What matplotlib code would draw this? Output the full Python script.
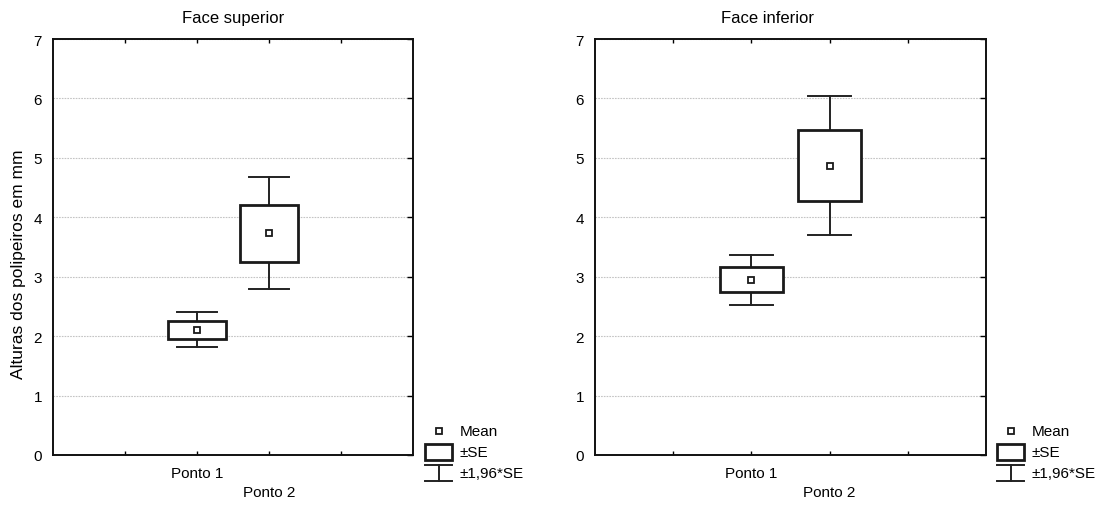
import matplotlib
matplotlib.use("Agg")
import matplotlib.pyplot as plt
from matplotlib.patches import Rectangle
from matplotlib.lines import Line2D

plt.rcParams["font.family"] = ["Liberation Sans", "DejaVu Sans"]

W, H = 1104, 506

categories = ["Ponto 1", "Ponto 2"]
panel_titles = ["Face superior", "Face inferior"]

# mean and standard error
mean_superior = [2.11, 3.73]
se_superior = [0.15, 0.48]
mean_inferior = [2.95, 4.87]
se_inferior = [0.215, 0.60]

y_ticks = [0, 1, 2, 3, 4, 5, 6, 7]
legend_labels = ["Mean", "\u00b1SE", "\u00b11,96*SE"]


def px(x, y):
    return x / W, 1 - y / H


def draw_panel(ax, means, ses, title, title_x):
    positions = [0, 1]
    box_w = 0.8
    cap_w = 0.55

    for pos, m, se in zip(positions, means, ses):
        lo, hi = m - 1.96 * se, m + 1.96 * se
        ax.plot([pos, pos], [lo, hi], color="#222222", lw=1.4, zorder=2)
        ax.plot([pos - cap_w / 2, pos + cap_w / 2], [hi, hi],
                color="#222222", lw=1.4, zorder=2)
        ax.plot([pos - cap_w / 2, pos + cap_w / 2], [lo, lo],
                color="#222222", lw=1.4, zorder=2)
        ax.add_patch(Rectangle((pos - box_w / 2, m - se), box_w, 2 * se,
                               facecolor="white", edgecolor="#1a1a1a",
                               lw=2.0, zorder=3))
        ax.plot(pos, m, marker="s", ms=5, mfc="white", mec="#1a1a1a",
                mew=1.3, ls="none", zorder=4)

    ax.set_xlim(-2, 3)
    ax.set_ylim(0, 7)
    ax.set_yticks(y_ticks)
    ax.set_xticks([-1, 0, 1, 2])
    ax.set_xticklabels(["", categories[0], "\n" + categories[1], ""],
                       fontsize=11)
    for lab in ax.get_xticklabels():
        lab.set_linespacing(1.45)
    ax.tick_params(axis="x", direction="in", length=3, top=True,
                   bottom=True, pad=8, width=1)
    ax.tick_params(axis="y", direction="in", length=4, left=False,
                   right=True, labelsize=11, pad=8, width=1)
    ax.grid(axis="y", color="#c4c4c4", ls=(0, (1.5, 1)), lw=0.8, zorder=0)
    for s in ax.spines.values():
        s.set_linewidth(1.4)
        s.set_color("#111111")
    ax.text(title_x, 1.033, title, transform=ax.transAxes, ha="center",
            va="bottom", fontsize=12)


def draw_legend(fig, x0):
    # x0 is the left edge of the legend symbols, in pixels
    tf = fig.transFigure
    sym_w = 27
    cx = x0 + sym_w / 2
    fig.add_artist(Line2D(*zip(px(cx, 432)), marker="s", ms=5, mfc="white",
                          mec="#1a1a1a", mew=1.3, ls="none", transform=tf))
    bx, by = px(x0, 461)
    fig.add_artist(Rectangle((bx, by), sym_w / W, 16 / H, transform=tf,
                             facecolor="white", edgecolor="#1a1a1a", lw=2.0))
    for yy in (466, 482):
        (xa, ya), (xb, yb) = px(x0, yy), px(x0 + sym_w, yy)
        fig.add_artist(Line2D([xa, xb], [ya, yb], color="#222222", lw=1.4,
                              transform=tf))
    (xa, ya), (xb, yb) = px(cx, 466), px(cx, 482)
    fig.add_artist(Line2D([xa, xb], [ya, yb], color="#222222", lw=1.4,
                          transform=tf))
    for lab, yy in zip(legend_labels, (432, 453, 474)):
        tx, ty = px(x0 + 35, yy)
        fig.text(tx, ty, lab, ha="left", va="center", fontsize=11)


fig = plt.figure(figsize=(W / 100, H / 100), dpi=100)

ax1 = fig.add_axes([53 / W, 50 / H, 360 / W, 416 / H])
ax2 = fig.add_axes([595 / W, 50 / H, 391 / W, 416 / H])

draw_panel(ax1, mean_superior, se_superior, panel_titles[0], 0.5)
draw_panel(ax2, mean_inferior, se_inferior, panel_titles[1], 0.44)

ax1.set_ylabel("Alturas dos polipeiros em mm", fontsize=12.5)
ax1.yaxis.set_label_coords(-0.075, 0.46)

draw_legend(fig, 425)
draw_legend(fig, 997)

fig.savefig("out.png", dpi=100)
plt.close(fig)
